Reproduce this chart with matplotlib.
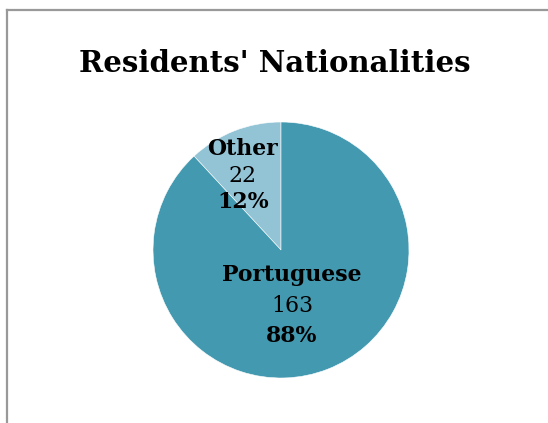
import numpy as np
import matplotlib
matplotlib.use("Agg")
import matplotlib.pyplot as plt
from matplotlib.lines import Line2D

labels = ["Other", "Portuguese"]
counts = [22, 163]
colors = ["#93c4d6", "#4399b0"]
label_radius = [0.61, 0.49]
label_shift = [7.8, -11.3]  # degrees off the wedge middle
line_gap = [0.207, 0.238]

fig = plt.figure(figsize=(5.48, 4.23), dpi=100)
fig.patch.set_facecolor("white")

# frame (top and left border)
fig.add_artist(Line2D([6.5 / 548, 1], [1 - 10 / 423, 1 - 10 / 423], color="#999999", lw=1.6,
                      transform=fig.transFigure))
fig.add_artist(Line2D([6.5 / 548, 6.5 / 548], [0, 1 - 10 / 423], color="#999999", lw=1.6,
                      transform=fig.transFigure))

fig.text(275 / 548, 1 - 72 / 423, "Residents' Nationalities", ha="center", va="baseline",
         fontsize=21, fontweight="bold", family="DejaVu Serif")

ax = fig.add_axes([153 / 548, (423 - 250 - 128) / 423, 256 / 548, 256 / 423])
wedges, _ = ax.pie(counts, colors=colors, startangle=90, counterclock=True,
                   wedgeprops=dict(edgecolor="white", linewidth=0.4))
ax.set_xlim(-1, 1)
ax.set_ylim(-1, 1)
ax.set_aspect("equal")

total = sum(counts)
for w, lab, n, r, sh, gap in zip(wedges, labels, counts, label_radius, label_shift, line_gap):
  mid = np.deg2rad((w.theta1 + w.theta2) / 2 + sh)
  x = r * np.cos(mid)
  y = r * np.sin(mid)
  pct = round(100 * n / total)
  ax.text(x, y + gap, lab, ha="center", va="baseline", fontsize=15.8, fontweight="bold",
          family="DejaVu Serif")
  ax.text(x, y, str(n), ha="center", va="baseline", fontsize=15.8, family="DejaVu Serif")
  ax.text(x, y - gap, f"{pct}%", ha="center", va="baseline", fontsize=15.8, fontweight="bold",
          family="DejaVu Serif")

fig.savefig("out.png", dpi=100)
